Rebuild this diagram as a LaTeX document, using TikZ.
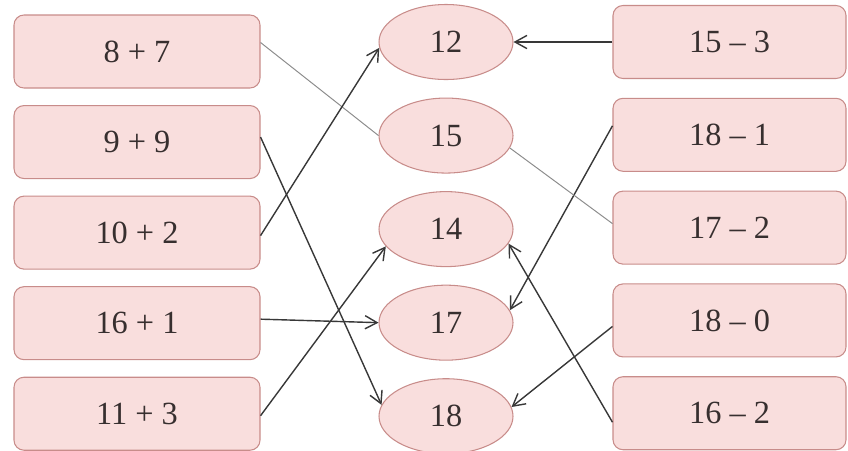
\documentclass[tikz,border=0pt]{standalone}
\usepackage{fontspec}
\setmainfont{Liberation Serif}
\usetikzlibrary{shapes.geometric, arrows.meta, positioning}

\definecolor{boxfill}{RGB}{249,222,221}
\definecolor{boxdraw}{RGB}{200,140,138}
\definecolor{numtext}{RGB}{55,47,47}

\begin{document}
\begin{tikzpicture}[
    sum/.style={rectangle, draw=boxdraw, fill=boxfill, text=numtext, rounded corners=0.25cm, minimum width=6.15cm, minimum height=1.825cm, font=\fontsize{23}{27}\selectfont, line width=0.75pt},
    diff/.style={sum, minimum width=5.825cm},
    answer/.style={ellipse, draw=boxdraw, fill=boxfill, text=numtext, inner sep=0pt, minimum width=3.35cm, minimum height=1.875cm, font=\fontsize{23}{27}\selectfont, line width=0.75pt},
    line/.style={draw, -{Straight Barb[length=0.3cm,width=0.33cm]}, line width=1pt, color=black!78},
    match/.style={draw, line width=0.7pt, color=black!45}
]
\useasboundingbox (0,0) rectangle (21.2,-11.25);

% Place the nodes
\node [sum] (a87) at (3.425,-1.2875) {8 + 7};
\node [sum, below=0.4125cm of a87] (a99) {9 + 9};
\node [sum, below=0.4125cm of a99] (a102) {10 + 2};
\node [sum, below=0.4125cm of a102] (a161) {16 + 1};
\node [sum, below=0.4125cm of a161] (a113) {11 + 3};

\node [answer] (n12) at (11.15,-1.05) {12};
\node [answer, below=0.4375cm of n12] (n15) {15};
\node [answer, below=0.4375cm of n15] (n14) {14};
\node [answer, below=0.4375cm of n14] (n17) {17};
\node [answer, below=0.4375cm of n17] (n18) {18};

\node [diff] (s153) at (18.2375,-1.05) {15 -- 3};
\node [diff, below=0.46875cm of s153] (s181) {18 -- 1};
\node [diff, below=0.46875cm of s181] (s172) {17 -- 2};
\node [diff, below=0.46875cm of s172] (s180) {18 -- 0};
\node [diff, below=0.46875cm of s180] (s162) {16 -- 2};

% Draw the lines (arrows)
\path [match] ([yshift=0.225cm]a87.east) -- (n15.west);
\path [line] ([yshift=0.125cm]a99.east) -- (n18.170);
\path [line] ([yshift=-0.075cm]a102.east) -- (n12.185);
\path [line] ([yshift=0.1cm]a161.east) -- (n17.west);
\path [line] ([yshift=-0.05cm]a113.east) -- (n14.196);
\path [line] (s153.west) -- (n12.east);
\path [line] ([yshift=0.225cm]s181.west) -- (n17.11);
\path [match] ([yshift=0.1cm]s172.west) -- (n15.349);
\path [line] ([yshift=-0.15cm]s180.west) -- (n18.8);
\path [line] ([yshift=-0.225cm]s162.west) -- (n14.347);

\end{tikzpicture}
\end{document}
